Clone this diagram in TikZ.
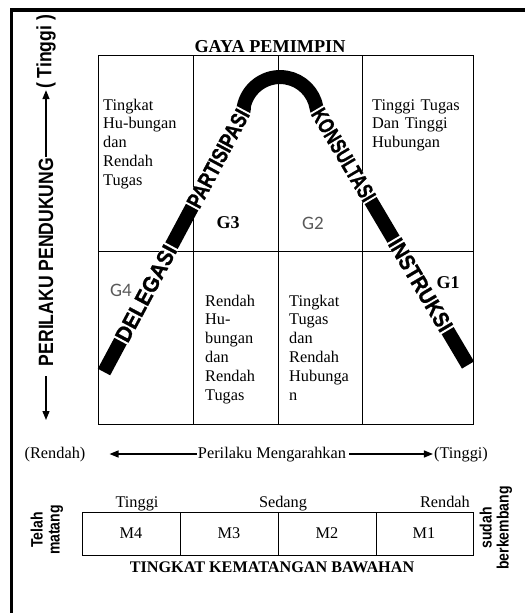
\documentclass[tikz,border=0pt]{standalone}
\usepackage{fontspec}
\setmainfont{Liberation Serif}
\setsansfont{Liberation Sans}
\newfontfamily\narrowsans{Liberation Sans}[FakeStretch=0.85]
\newfontfamily\heavysans{Liberation Sans Bold}[FakeBold=1.2]
\newfontfamily\grayfont{Carlito}
\usepackage{graphicx}
\usetikzlibrary{arrows.meta,positioning}

\newcommand{\bandtext}[2]{\resizebox{#1}{15.5pt}{\heavysans #2}}

\begin{document}
\begin{tikzpicture}[x=1pt,y=-1pt,
  grid/.style={line width=0.8pt},
  band/.style={line width=14pt,line join=round},
  bandlabel/.style={fill=white,inner xsep=1pt,inner ysep=0pt,sloped},
  cell/.style={anchor=base west,align=left,text width=90pt,inner sep=0pt,font=\fontsize{16.3}{18.8}\selectfont},
  glabel/.style={font=\fontsize{18}{20}\selectfont\bfseries},
  glight/.style={font=\grayfont\fontsize{19}{20}\selectfont,text=black!65},
  plain/.style={font=\fontsize{16.3}{18}\selectfont},
  axislabel/.style={plain,text height=11pt,text depth=3pt,inner sep=1pt},
  sidelabel/.style={rotate=90,align=center,font=\narrowsans\bfseries\fontsize{16.5}{17}\selectfont},
  arrow/.style={line width=1.4pt,-{Triangle[length=9pt,width=7pt]}}]
\useasboundingbox (0,0) rectangle (525,613);

% frame
\draw[line width=3.2pt] (11.5,613) -- (11.5,10) -- (525,10);

% grid of styles
\draw[grid] (98,55) rectangle (473,424);
\foreach \x in {193,278,362}
  \draw[grid] (\x,55) -- (\x,424);
\draw[grid] (98,251) -- (473,251);
\node[font=\fontsize{18.2}{20}\selectfont\bfseries,anchor=base] (title) at (270,52) {GAYA PEMIMPIN};

% curve
\coordinate (lb) at (104,372);
\coordinate (lt) at (244,110);
\coordinate (rt) at (317,110);
\coordinate (rb) at (468,365);
\draw[band] (lb) -- (lt) -- (243.6,107.6) arc[start angle=190,end angle=350,radius=37] -- (rt) -- (rb);
\path (lb) -- node[bandlabel,pos=0.30] {\bandtext{106pt}{DELEGASI}}
  node[bandlabel,pos=0.815] {\bandtext{108pt}{PARTISIPASI}} (lt);
\path (rt) -- node[bandlabel,pos=0.176] {\bandtext{104pt}{KONSULTASI}}
  node[bandlabel,pos=0.686] {\bandtext{104pt}{INSTRUKSI}} (rb);

\node[glabel] (g3) at (228,223) {G3};
\node[glight] (g2) at (313,223) {G2};
\node[glight] (g4) at (121,290) {G4};
\node[glabel] (g1) at (448,283) {G1};

\node[cell] (hrlt) at (103,110) {Tingkat\\Hu-bungan\\dan\\Rendah\\Tugas};
\node[cell] (htht) at (372,110) {Tinggi Tugas\\Dan Tinggi\\Hubungan};
\node[cell] (lrlt) at (205,306) {Rendah\\Hu-\\bungan\\dan\\Rendah\\Tugas};
\node[cell] (htlr) at (289,306) {Tingkat\\Tugas\\dan\\Rendah\\Hubunga\\n};

% vertical axis
\node[rotate=90,inner xsep=1pt,font=\narrowsans\bfseries\fontsize{20.7}{24}\selectfont] (support) at (46,262) {PERILAKU PENDUKUNG};
\node[rotate=90,inner xsep=1pt,font=\narrowsans\bfseries\fontsize{20.7}{24}\selectfont] (supporthigh) at (46,52) {( Tinggi )};
\coordinate (supportlow) at (46,420);
\draw[arrow] (support.east) -- (supporthigh.west);
\draw[arrow,shorten <=9pt] (support.west) -- (supportlow);

% horizontal axis
\node[axislabel] (directlow) at (55,454) {(Rendah)};
\node[axislabel] (direct) at (272,454) {Perilaku Mengarahkan};
\node[axislabel] (directhigh) at (461,454) {(Tinggi)};
\draw[arrow,shorten >=23pt] (direct.west) -- (directlow.east);
\draw[arrow,shorten <=2pt] (direct.east) -- (directhigh.west);

% maturity
\draw[grid] (82,512) rectangle (473,555);
\foreach \x in {180,278,376}
  \draw[grid] (\x,512) -- (\x,555);
\foreach \x/\m in {131/M4,229/M3,327/M2,424/M1}
  \node[plain] (\m) at (\x,533.5) {\m};
\node[plain,anchor=base] (high) at (137,507) {Tinggi};
\node[plain,anchor=base] (medium) at (283,507) {Sedang};
\node[plain,anchor=base east,inner sep=0pt] (low) at (470,507) {Rendah};
\node[font=\fontsize{16.2}{18}\selectfont\bfseries,anchor=base] (maturity) at (272,572) {TINGKAT KEMATANGAN BAWAHAN};
\node[sidelabel] (mature) at (47,530) {Telah\\matang};
\node[sidelabel] (developing) at (496,528) {sudah\\berkembang};
\end{tikzpicture}
\end{document}
